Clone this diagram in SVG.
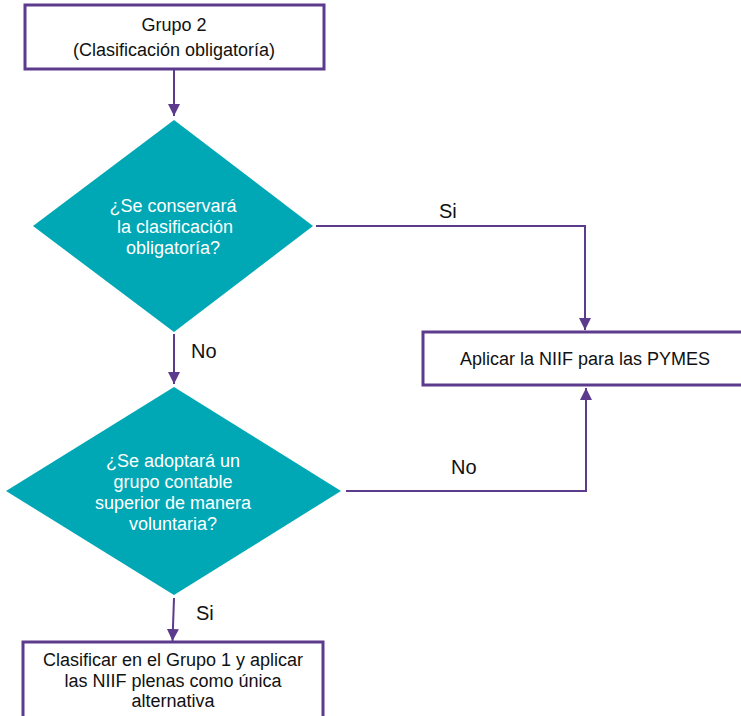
<svg xmlns="http://www.w3.org/2000/svg" width="741" height="716" viewBox="0 0 741 716">
  <style>
    .box { fill: #ffffff; stroke: #5C3A8C; stroke-width: 3; }
    .dia { fill: #00A8B5; }
    .edge { fill: none; stroke: #5C3A8C; stroke-width: 2; }
    .t { font-family: "Liberation Sans", Arial, sans-serif; font-size: 18px; fill: #111111; text-anchor: middle; }
    .tw { font-family: "Liberation Sans", Arial, sans-serif; font-size: 18px; fill: #ffffff; text-anchor: middle; }
    .lbl { font-family: "Liberation Sans", Arial, sans-serif; font-size: 20px; fill: #111111; }
  </style>
  <defs>
    <marker id="arrow" viewBox="0 0 10 10" refX="10" refY="5" markerWidth="6" markerHeight="6" orient="auto" markerUnits="strokeWidth">
      <path d="M0,0 L10,5 L0,10 Z" fill="#5C3A8C"/>
    </marker>
  </defs>

  <g id="connectors">
    <line class="edge" x1="174" y1="70" x2="174" y2="116" marker-end="url(#arrow)"/>
    <polyline class="edge" points="316,226 585,226 585,330" marker-end="url(#arrow)"/>
    <line class="edge" x1="174" y1="334" x2="174" y2="384" marker-end="url(#arrow)"/>
    <polyline class="edge" points="346,491 586,491 586,388" marker-end="url(#arrow)"/>
    <line class="edge" x1="174" y1="598" x2="172.5" y2="641" marker-end="url(#arrow)"/>
    <text class="lbl" x="439" y="218">Si</text>
    <text class="lbl" x="191" y="358">No</text>
    <text class="lbl" x="451" y="474">No</text>
    <text class="lbl" x="196" y="620">Si</text>
  </g>

  <g id="grupo2">
    <rect class="box" x="25" y="5" width="299" height="64"/>
    <text class="t" x="174" y="31">Grupo 2</text>
    <text class="t" x="174" y="56">(Clasificación obligatoría)</text>
  </g>

  <g id="decision-conservar">
    <polygon class="dia" points="174,120 313,226 174,332 33,226"/>
    <text class="tw" x="173" y="212">¿Se conservará</text>
    <text class="tw" x="175" y="233">la clasificación</text>
    <text class="tw" x="173" y="254">obligatoría?</text>
  </g>

  <g id="aplicar-pymes">
    <rect class="box" x="423" y="332" width="320" height="53"/>
    <text class="t" x="585" y="365">Aplicar la NIIF para las PYMES</text>
  </g>

  <g id="decision-adoptar">
    <polygon class="dia" points="174,387 341,491 174,595 6,491"/>
    <text class="tw" x="173" y="467">¿Se adoptará un</text>
    <text class="tw" x="173" y="488">grupo contable</text>
    <text class="tw" x="173" y="509">superior de manera</text>
    <text class="tw" x="173" y="530">voluntaria?</text>
  </g>

  <g id="clasificar-grupo1">
    <rect class="box" x="23" y="642" width="300" height="80"/>
    <text class="t" x="173" y="666">Clasificar en el Grupo 1 y aplicar</text>
    <text class="t" x="173" y="687">las NIIF plenas como única</text>
    <text class="t" x="173" y="707">alternativa</text>
  </g>
</svg>
